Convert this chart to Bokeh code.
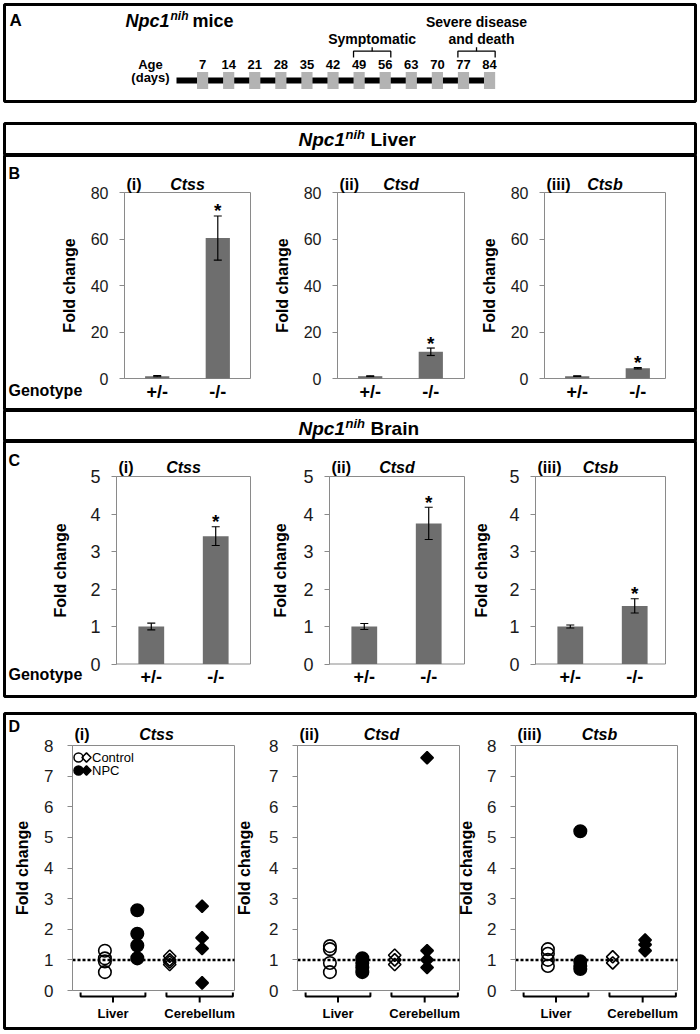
import numpy as np
from bokeh.plotting import figure
from bokeh.models import (Range1d, Label, Whisker, FixedTicker, ColumnDataSource, TeeHead,
                          Spacer, LinearAxis)
from bokeh.layouts import column
from bokeh.embed import file_html
from bokeh.resources import INLINE
from bokeh.core.properties import value

# ---------------- data ----------------
ages = [7, 14, 21, 28, 35, 42, 49, 56, 63, 70, 77, 84]
symptomatic_days = [49, 56]
severe_days = [77, 84]

genotypes = ["+/-", "-/-"]
genes = ["Ctss", "Ctsd", "Ctsb"]
panel_ids = ["(i)", "(ii)", "(iii)"]

liver_mean = [[1.0, 60.4], [1.0, 11.5], [1.0, 4.4]]
liver_sem = [[0.25, 9.5], [0.15, 1.6], [0.1, 0.3]]
liver_sig = [[False, True], [False, True], [False, True]]
brain_mean = [[1.0, 3.41], [1.0, 3.75], [1.0, 1.55]]
brain_sem = [[0.09, 0.25], [0.08, 0.43], [0.04, 0.19]]
brain_sig = [[False, True], [False, True], [False, True]]

d_groups = ["Control liver", "NPC liver", "Control cerebellum", "NPC cerebellum"]
ctss_points = [[1.3, 1.05, 0.95, 0.6], [2.62, 1.85, 1.47, 1.05],
               [1.12, 1.0, 0.93, 0.85], [2.75, 1.72, 1.37, 0.25]]
ctsd_points = [[1.45, 1.35, 0.9, 0.6], [1.05, 0.9, 0.75, 0.6],
               [1.15, 1.0, 0.85], [7.6, 1.3, 1.0, 0.75]]
ctsb_points = [[1.35, 1.2, 1.0, 0.8], [5.2, 0.95, 0.8, 0.7],
               [1.1, 0.9], [1.65, 1.5, 1.3]]
tissues = ["Liver", "Cerebellum"]
legend_labels = ["Control", "NPC"]

# ---------------- style / layout ----------------
FONT = "Liberation Sans"
GRAY = "#8a8a8a"
BAR = "#6e6e6e"
TXT = "#1a1a1a"
W = 695                 # every band is this wide
FL, FR = 4, 695         # frame left / right in page pixels


def base_fig(h, mt, mb, xr, yr):
    p = figure(width=W, height=h, min_border_left=2, min_border_right=2,
               min_border_top=mt, min_border_bottom=mb, x_range=xr, y_range=yr,
               x_axis_location=None, y_axis_location=None,
               output_backend="svg", toolbar_location=None)
    p.grid.visible = False
    p.outline_line_color = "black"
    p.outline_line_width = 3
    p.background_fill_color = "white"
    p.border_fill_color = "white"
    return p


def lab(f, x, y, text, size, style="bold", align="left", units="screen", **kw):
    f.add_layout(Label(x=x, y=y, x_units=units, y_units=units, text=text,
                       text_font=FONT, text_font_style=style, text_font_size=f"{size}px",
                       text_align=align, text_baseline="middle", text_color="black", **kw))


def style_axis_common(ax):
    ax.major_label_text_font = FONT
    ax.minor_tick_out = 0
    ax.minor_tick_in = 0
    ax.major_tick_in = 0


# ---------------- panel A ----------------
PX_PER_DAY = 3.727
day0_sx = 172
xa0 = -day0_sx / PX_PER_DAY
figA = base_fig(101, 2, 2, Range1d(xa0, xa0 + (FR - FL) / PX_PER_DAY), Range1d(-21, 76))
figA.segment(x0=[0], y0=[0], x1=[max(ages)], y1=[0], line_width=6, line_color="black")
figA.rect(x=ages, y=[0] * len(ages), width=3, height=17, height_units="screen",
          fill_color="#b3b3b3", line_color=None)
figA.text(x=ages, y=[16] * len(ages), text=[str(a) for a in ages], text_align="center",
          text_baseline="middle", text_font=value(FONT), text_font_style="bold",
          text_font_size="13px", text_color="black")
for (s, e) in [symptomatic_days, severe_days]:
    m = (s + e) / 2
    figA.multi_line(xs=[[s - 1.5, s - 1.5, e + 1.5, e + 1.5], [m, m]],
                    ys=[[23, 29.3, 29.3, 23], [29.3, 33.3]], line_color="black", line_width=1.3)
lab(figA, np.mean(symptomatic_days), 42, "Symptomatic", 14, align="center", units="data")
lab(figA, np.mean(severe_days), 59, "Severe disease", 14, align="center", units="data")
lab(figA, np.mean(severe_days), 42, "and death", 14, align="center", units="data", x_offset=5)
lab(figA, 5, 81, "A", 17)
lab(figA, 121, 81, "Npc1", 18, style="bold italic")
lab(figA, 166, 86, "nih", 12, style="bold italic")
lab(figA, 188, 81, "mice", 18)
lab(figA, 146, 37, "Age", 13, align="center")
lab(figA, 146, 24.5, "(days)", 13, align="center")


# ---------------- headers ----------------
def header(h, mt, mb, word, mid_sy):
    f = base_fig(h, mt, mb, Range1d(0, 1), Range1d(0, 1))
    lab(f, 294, mid_sy, "Npc1", 19, style="bold italic")
    lab(f, 341, mid_sy + 5, "nih", 13, style="bold italic")
    lab(f, 366, mid_sy, word, 19)
    return f


# ---------------- bar panels (B, C) ----------------
X_LO = 0.46
X_SPAN = 2.08


def bar_panel(h, mt, mb, ctop, lefts, widths, y0_px, px_per_unit, ymax, ystep,
              means, sems, sigs, tick_size, stds, title_px, letter, letter_sy, geno_sy):
    ftop, fbot = ctop + mt, ctop + h - mb
    U = widths[0] / X_SPAN
    V = px_per_unit
    xr = Range1d(X_LO - (lefts[0] - FL) / U, X_LO + (FR - lefts[0]) / U)
    yr = Range1d(-(fbot - y0_px) / V, (y0_px - ftop) / V)
    p = base_fig(h, mt, mb, xr, yr)
    pos = [i + 1 for i in range(len(genotypes))]
    all_ticks, overrides = [], {}
    for k in range(len(genes)):
        off = (lefts[k] - lefts[0]) / U
        hi_k = X_LO + widths[k] / U
        p.quad(left=[off + X_LO], right=[off + hi_k], bottom=[0], top=[ymax],
               fill_color=None, line_color=GRAY, line_width=1)
        xs = [off + x for x in pos]
        p.vbar(x=xs, top=means[k], width=0.4, fill_color=BAR, line_color=None)
        lo = [m - s for m, s in zip(means[k], sems[k])]
        hi = [m + s for m, s in zip(means[k], sems[k])]
        src = ColumnDataSource(dict(x=xs, lo=lo, hi=hi))
        p.add_layout(Whisker(source=src, base="x", lower="lo", upper="hi", line_color="black",
                             line_width=1.2, level="overlay",
                             upper_head=TeeHead(size=8, line_width=1.2, line_color="black"),
                             lower_head=TeeHead(size=8, line_width=1.2, line_color="black")))
        sx = [x for x, s in zip(xs, sigs[k]) if s]
        sy = [y for y, s in zip(hi, sigs[k]) if s]
        p.text(x=sx, y=sy, text=["*"] * len(sx), text_align="center", y_offset=-5,
               text_baseline="alphabetic", text_font=value(FONT), text_font_style="bold",
               text_font_size="19px", text_color="black")
        for x, g in zip(xs, genotypes):
            all_ticks.append(x)
            overrides[x] = g
        ya = LinearAxis(fixed_location=off + X_LO, bounds=(0, ymax),
                        ticker=FixedTicker(ticks=list(range(0, ymax + 1, ystep))))
        style_axis_common(ya)
        ya.major_label_text_font_size = f"{tick_size}px"
        ya.major_label_text_color = TXT
        ya.major_tick_out = 5
        ya.axis_line_color = GRAY
        ya.major_tick_line_color = GRAY
        ya.major_label_standoff = 11
        ya.axis_label = "Fold change"
        ya.axis_label_text_font = FONT
        ya.axis_label_text_font_style = "bold"
        ya.axis_label_text_font_size = "16px"
        ya.axis_label_text_color = "black"
        ya.axis_label_standoff = stds[k]
        p.add_layout(ya, "left")
        ty = ymax + title_px / V
        lab(p, off + X_LO + 2 / U, ty, panel_ids[k], 16, units="data")
        lab(p, off + (X_LO + hi_k) / 2, ty, genes[k], 16, style="bold italic",
            align="center", units="data")
    xa = LinearAxis(fixed_location=0, ticker=FixedTicker(ticks=all_ticks))
    xa.major_label_overrides = overrides
    style_axis_common(xa)
    xa.major_label_text_font_style = "bold"
    xa.major_label_text_font_size = "18px"
    xa.major_label_text_color = "black"
    xa.major_tick_out = 0
    xa.axis_line_color = None
    xa.major_label_standoff = 3
    p.add_layout(xa, "below")
    lab(p, 4, letter_sy, letter, 16)
    lab(p, 4, geno_sy, "Genotype", 16)
    return p


figB = bar_panel(255, 0, 0, 155, [124, 337, 544], [126, 127, 121], 378, 186 / 80, 80, 20,
                 liver_mean, liver_sem, liver_sig, 16, [10, 10, 10], 8,
                 "B", 410 - 172.5, 410 - 390)
figC = bar_panel(257, 0, 2, 441, [116, 329, 535], [134, 135, 130], 663.5, 37.5, 5, 1,
                 brain_mean, brain_sem, brain_sig, 18, [18, 11, 16], 9,
                 "C", 696 - 459.5, 696 - 674)

# ---------------- scatter panel (D) ----------------
D_TOP, D_H = 711, 319
D_MT, D_MB = 2, 2
D_LEFTS = [72, 297, 515]
D_SPAN = 5
D_U = 162 / D_SPAN
D_V = 245 / 8
D_Y0 = 990
D_STD = [10, 13, 9]
brackets = [(0.25, 2.25), (2.9, 4.95)]
d_sets = [ctss_points, ctsd_points, ctsb_points]

d_ftop, d_fbot = D_TOP + D_MT, D_TOP + D_H - D_MB
figD = base_fig(D_H, D_MT, D_MB,
                Range1d(-(D_LEFTS[0] - FL) / D_U, (FR - D_LEFTS[0]) / D_U),
                Range1d(-(d_fbot - D_Y0) / D_V, (D_Y0 - d_ftop) / D_V))
d_ticks, d_over = [], {}
for k in range(len(genes)):
    off = (D_LEFTS[k] - D_LEFTS[0]) / D_U
    figD.quad(left=[off], right=[off + D_SPAN], bottom=[0], top=[8],
              fill_color=None, line_color=GRAY, line_width=1)
    figD.segment(x0=[off], x1=[off + D_SPAN], y0=[1], y1=[1], line_color="black",
                 line_dash="3 2", line_width=2.5)
    for gi, pts in enumerate(d_sets[k]):
        xs = [off + gi + 1] * len(pts)
        filled = "black" if gi % 2 == 1 else None
        if gi < 2:
            figD.scatter(xs, pts, marker="circle", size=12.5, line_color="black",
                         line_width=1.6, fill_color=filled)
        else:
            figD.scatter(xs, pts, marker="square", angle=np.pi / 4, size=8.8,
                         line_color="black", line_width=1.6, fill_color=filled)
    bx, by = [], []
    for (a, b), t in zip(brackets, tissues):
        c = off + (a + b) / 2
        bx += [[off + a, off + a, off + b, off + b], [c, c]]
        by += [[-2 / D_V, -6 / D_V, -6 / D_V, -2 / D_V], [-6 / D_V, -12 / D_V]]
        d_ticks.append(c)
        d_over[c] = t
    figD.multi_line(xs=bx, ys=by, line_color="black", line_width=2)
    ya = LinearAxis(fixed_location=off, bounds=(0, 8), ticker=FixedTicker(ticks=list(range(0, 9))))
    style_axis_common(ya)
    ya.major_label_text_font_size = "17px"
    ya.major_label_text_color = TXT
    ya.major_tick_out = 5
    ya.axis_line_color = GRAY
    ya.major_tick_line_color = GRAY
    ya.major_label_standoff = 14
    ya.axis_label = "Fold change"
    ya.axis_label_text_font = FONT
    ya.axis_label_text_font_style = "bold"
    ya.axis_label_text_font_size = "16px"
    ya.axis_label_text_color = "black"
    ya.axis_label_standoff = D_STD[k]
    figD.add_layout(ya, "left")
    ty = 8 + 11.5 / D_V
    lab(figD, off + 2 / D_U, ty, panel_ids[k], 16, units="data")
    lab(figD, off + D_SPAN / 2 + 3 / D_U, ty, genes[k], 16, style="bold italic",
        align="center", units="data")

xaD = LinearAxis(fixed_location=0, ticker=FixedTicker(ticks=d_ticks))
xaD.major_label_overrides = d_over
style_axis_common(xaD)
xaD.major_label_text_font_style = "bold"
xaD.major_label_text_font_size = "13px"
xaD.major_label_text_color = "black"
xaD.major_tick_out = 0
xaD.axis_line_color = None
xaD.major_label_standoff = 15
figD.add_layout(xaD, "below")

# legend key (panel D(i))
key_x = [6 / D_U, 14 / D_U]
key_y = [8 - 12 / D_V, 8 - 25 / D_V]
for ri, fill in enumerate([None, "black"]):
    figD.scatter([key_x[0]], [key_y[ri]], marker="circle", size=9, line_color="black",
                 line_width=1.5, fill_color=fill)
    figD.scatter([key_x[1]], [key_y[ri]], marker="square", angle=np.pi / 4, size=6.5,
                 line_color="black", line_width=1.5, fill_color=fill)
    lab(figD, 19.5 / D_U, key_y[ri], legend_labels[ri], 13, style="normal", units="data")
lab(figD, 4, d_fbot - 726, "D", 16)

root = column(figA, Spacer(width=W, height=18),
              header(34, 2, 0, "Liver", 16), figB, header(31, 0, 0, "Brain", 13), figC,
              Spacer(width=W, height=13), figD,
              styles={"margin-left": "2px", "margin-top": "2px"})

open("out.html", "w").write(file_html(root, INLINE))
